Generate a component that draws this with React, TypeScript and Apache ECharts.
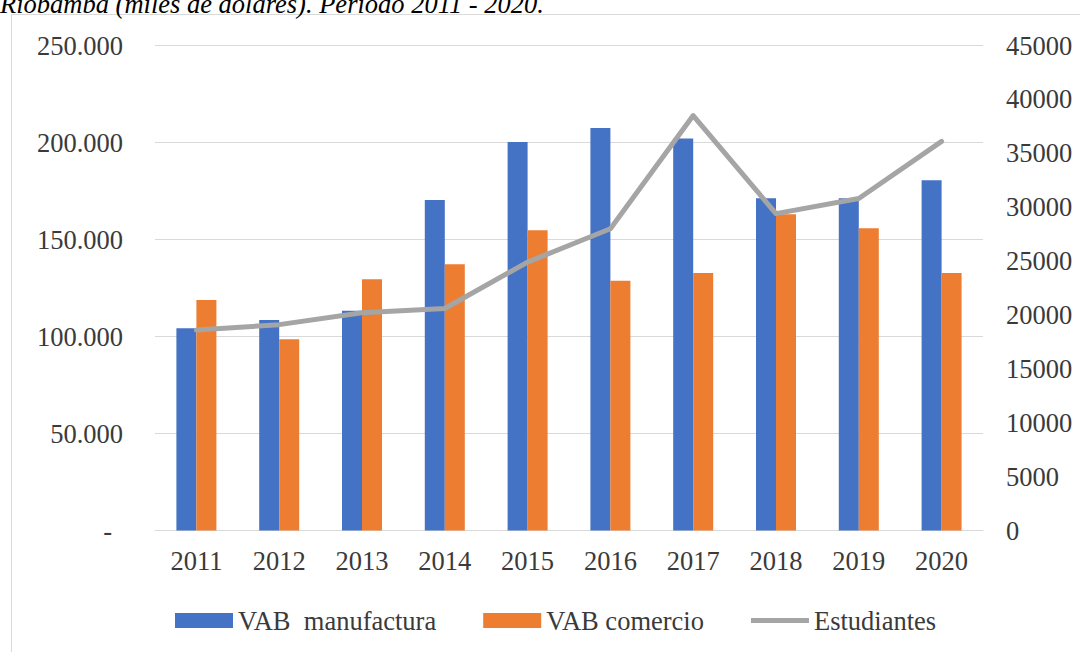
import React, { useEffect, useRef } from "react";
import * as echarts from "echarts";

const years = ["2011", "2012", "2013", "2014", "2015", "2016", "2017", "2018", "2019", "2020"];
const vabManufactura = [104200, 108500, 113300, 170300, 200200, 207500, 202100, 171200, 171200, 180600];
const vabComercio = [118800, 98600, 129500, 137300, 154800, 128700, 132700, 163000, 155800, 132700];
const estudiantes = [18600, 19100, 20200, 20600, 24900, 28000, 38500, 29400, 30800, 36100];
const seriesNames = ["VAB  manufactura", "VAB comercio", "Estudiantes"];
const titleText = "Riobamba (miles de dólares). Período 2011 - 2020.";

const FONT = "'Liberation Serif', 'Times New Roman', serif";
const FS = 26.5;
const TEXT_COLOR = "#3A3A3A";
const GRID_COLOR = "#D9D9D9";

function fmtThousands(v: number): string {
  if (v === 0) return "{z|-}";
  const s = Math.round(v).toString();
  return s.replace(/\B(?=(\d{3})+(?!\d))/g, ".");
}

export default function App() {
  const ref = useRef<HTMLDivElement>(null);

  useEffect(() => {
    document.body.style.margin = "0";
    if (!ref.current) return;
    const chart = echarts.init(ref.current, undefined, { renderer: "svg" });
    chart.setOption({
      animation: false,
      backgroundColor: "#ffffff",
      graphic: [
        {
          type: "rect",
          shape: { x: 11.5, y: 14.5, width: 1200, height: 800 },
          style: { fill: "none", stroke: GRID_COLOR, lineWidth: 1 },
          silent: true,
          z: -10,
        },
        {
          type: "text",
          x: 0,
          y: 4,
          style: {
            text: titleText,
            font: `italic 26.5px ${FONT}`,
            fill: "#000000",
            verticalAlign: "middle",
          },
        },
      ],
      grid: { left: 155, right: 97, top: 45.5, bottom: 121.5, containLabel: false },
      legend: {
        left: 170,
        top: 602,
        itemWidth: 58,
        itemHeight: 15,
        itemGap: 47,
        textStyle: { fontFamily: FONT, fontSize: FS, color: TEXT_COLOR },
        data: [
          { name: seriesNames[0], icon: "rect" },
          { name: seriesNames[1], icon: "rect" },
          {
            name: seriesNames[2],
            icon: "path://M0,0 L62,0 L62,5.5 L0,5.5 Z",
            itemStyle: { color: "#A5A5A5" },
          },
        ],
      },
      xAxis: {
        type: "category",
        data: years,
        axisLine: { show: true, lineStyle: { color: GRID_COLOR, width: 1 } },
        axisTick: { show: false },
        axisLabel: { fontFamily: FONT, fontSize: FS, color: TEXT_COLOR, margin: 17 },
      },
      yAxis: [
        {
          type: "value",
          min: 0,
          max: 250000,
          interval: 50000,
          axisLine: { show: false },
          axisTick: { show: false },
          splitLine: { lineStyle: { color: GRID_COLOR, width: 1 } },
          axisLabel: {
            fontFamily: FONT,
            fontSize: FS,
            color: TEXT_COLOR,
            margin: 32,
            formatter: fmtThousands,
            rich: { z: { fontFamily: FONT, fontSize: FS, color: TEXT_COLOR, padding: [0, 11, 0, 0] } },
          },
        },
        {
          type: "value",
          min: 0,
          max: 45000,
          interval: 5000,
          position: "right",
          axisLine: { show: false },
          axisTick: { show: false },
          splitLine: { show: false },
          axisLabel: {
            fontFamily: FONT,
            fontSize: FS,
            color: TEXT_COLOR,
            margin: 23,
            formatter: (v: number) => String(Math.round(v)),
          },
        },
      ],
      series: [
        {
          name: seriesNames[0],
          type: "bar",
          data: vabManufactura,
          barWidth: 20,
          barGap: "0%",
          itemStyle: { color: "#4472C4" },
        },
        {
          name: seriesNames[1],
          type: "bar",
          data: vabComercio,
          barWidth: 20,
          barGap: "0%",
          itemStyle: { color: "#ED7D31" },
        },
        {
          name: seriesNames[2],
          type: "line",
          yAxisIndex: 1,
          data: estudiantes,
          symbol: "none",
          showSymbol: false,
          lineStyle: { color: "#A5A5A5", width: 5, join: "round", cap: "round" },
          itemStyle: { color: "#A5A5A5" },
        },
      ],
    });
    return () => chart.dispose();
  }, []);

  return <div ref={ref} style={{ width: 1080, height: 652 }} />;
}
